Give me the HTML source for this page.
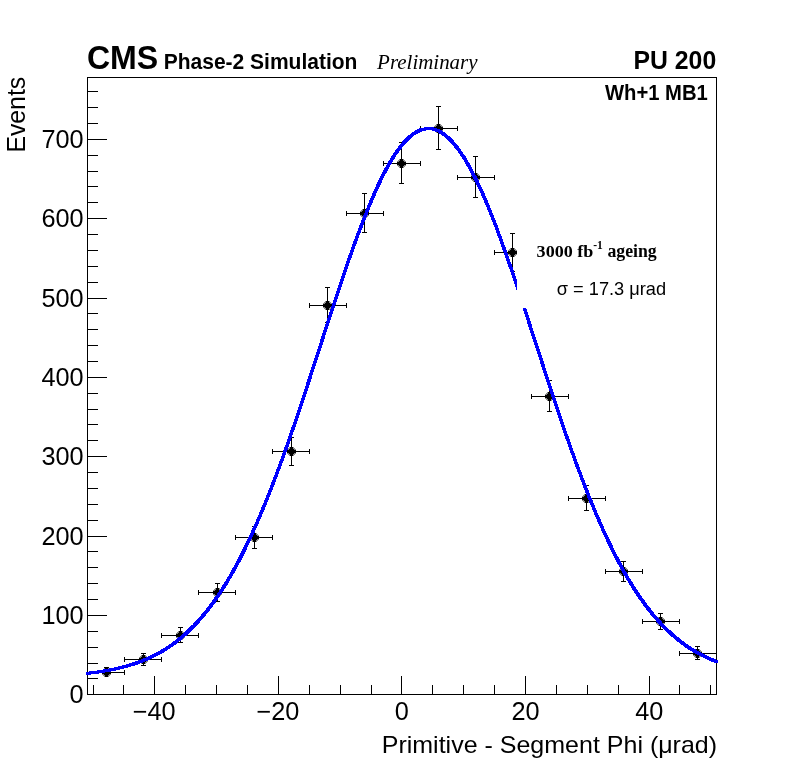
<!DOCTYPE html>
<html><head><meta charset="utf-8"><style>
html,body{margin:0;padding:0;background:#fff;}
body{width:796px;height:772px;overflow:hidden;}
svg{display:block;will-change:transform;}
text{font-family:"Liberation Sans",sans-serif;}
</style></head><body>
<svg width="796" height="772" viewBox="0 0 796 772">
<rect x="0" y="0" width="796" height="772" fill="#fff"/>

<path d="M88 694.5h19 M88 678.5h10 M88 663.5h10 M88 647.5h10 M88 631.5h10 M88 615.5h19 M88 599.5h10 M88 583.5h10 M88 567.5h10 M88 551.5h10 M88 536.5h19 M88 520.5h10 M88 504.5h10 M88 488.5h10 M88 472.5h10 M88 456.5h19 M88 440.5h10 M88 424.5h10 M88 409.5h10 M88 393.5h10 M88 377.5h19 M88 361.5h10 M88 345.5h10 M88 329.5h10 M88 313.5h10 M88 298.5h19 M88 282.5h10 M88 266.5h10 M88 250.5h10 M88 234.5h10 M88 218.5h19 M88 202.5h10 M88 186.5h10 M88 171.5h10 M88 155.5h10 M88 139.5h19 M88 123.5h10 M88 107.5h10 M88 91.5h10 M93.5 694v-9 M123.5 694v-9 M154.5 694v-18 M185.5 694v-9 M216.5 694v-9 M247.5 694v-9 M278.5 694v-18 M309.5 694v-9 M340.5 694v-9 M371.5 694v-9 M401.5 694v-18 M432.5 694v-9 M463.5 694v-9 M494.5 694v-9 M525.5 694v-18 M556.5 694v-9 M587.5 694v-9 M618.5 694v-9 M649.5 694v-18 M679.5 694v-9 M710.5 694v-9" stroke="#000" stroke-width="1" fill="none"/>
<g clip-path="url(#fr)">
<clipPath id="fr"><rect x="87.5" y="77.5" width="629" height="617"/></clipPath>
<path d="M87.5 672.5H124.5M106.5 667.5V672.5M104.0 667.5h5M124.5 670.0v5M124.5 659.5H161.5M143.5 653.5V665.5M141.0 653.5h5M141.0 665.5h5M124.5 657.0v5M161.5 657.0v5M161.5 635.5H198.5M180.5 627.5V642.5M178.0 627.5h5M178.0 642.5h5M161.5 633.0v5M198.5 633.0v5M198.5 592.5H235.5M217.5 583.5V601.5M215.0 583.5h5M215.0 601.5h5M198.5 590.0v5M235.5 590.0v5M235.5 537.5H272.5M254.5 526.5V548.5M252.0 526.5h5M252.0 548.5h5M235.5 535.0v5M272.5 535.0v5M272.5 451.5H309.5M291.5 437.5V465.5M289.0 437.5h5M289.0 465.5h5M272.5 449.0v5M309.5 449.0v5M309.5 305.5H346.5M327.5 287.5V322.5M325.0 287.5h5M325.0 322.5h5M309.5 303.0v5M346.5 303.0v5M346.5 213.5H383.5M364.5 193.5V232.5M362.0 193.5h5M362.0 232.5h5M346.5 211.0v5M383.5 211.0v5M383.5 163.5H420.5M401.5 142.5V183.5M399.0 142.5h5M399.0 183.5h5M383.5 161.0v5M420.5 161.0v5M420.5 128.5H457.5M438.5 106.5V149.5M436.0 106.5h5M436.0 149.5h5M420.5 126.0v5M457.5 126.0v5M457.5 177.5H494.5M475.5 156.5V197.5M473.0 156.5h5M473.0 197.5h5M457.5 175.0v5M494.5 175.0v5M494.5 252.5H531.5M512.5 233.5V271.5M510.0 233.5h5M510.0 271.5h5M494.5 250.0v5M531.5 250.0v5M531.5 396.5H568.5M549.5 380.5V411.5M547.0 380.5h5M547.0 411.5h5M531.5 394.0v5M568.5 394.0v5M568.5 498.5H605.5M586.5 485.5V510.5M584.0 485.5h5M584.0 510.5h5M568.5 496.0v5M605.5 496.0v5M605.5 571.5H642.5M623.5 561.5V581.5M621.0 561.5h5M621.0 581.5h5M605.5 569.0v5M642.5 569.0v5M642.5 621.5H679.5M660.5 613.5V629.5M658.0 613.5h5M658.0 629.5h5M642.5 619.0v5M679.5 619.0v5M679.5 653.5H716.5M697.5 646.5V659.5M695.0 646.5h5M695.0 659.5h5M679.5 651.0v5" stroke="#000" stroke-width="1" fill="none"/>
<g fill="#000" shape-rendering="crispEdges"><path d="M108 676h1v1h-1ZM108 668h1v1h-1ZM104 676h1v1h-1ZM104 668h1v1h-1ZM108 675h1v1h-1ZM108 669h1v1h-1ZM104 675h1v1h-1ZM104 669h1v1h-1ZM109 675h1v1h-1ZM109 669h1v1h-1ZM103 675h1v1h-1ZM103 669h1v1h-1ZM109 674h1v1h-1ZM109 670h1v1h-1ZM103 674h1v1h-1ZM103 670h1v1h-1ZM110 674h1v1h-1ZM110 670h1v1h-1ZM102 674h1v1h-1ZM102 670h1v1h-1Z" fill="#8c8c8c"/><path d="M105 668H108V670H109V671H111V674H109V675H108V677H105V675H104V674H102V671H104V670H105Z"/><path d="M145 663h1v1h-1ZM145 655h1v1h-1ZM141 663h1v1h-1ZM141 655h1v1h-1ZM145 662h1v1h-1ZM145 656h1v1h-1ZM141 662h1v1h-1ZM141 656h1v1h-1ZM146 662h1v1h-1ZM146 656h1v1h-1ZM140 662h1v1h-1ZM140 656h1v1h-1ZM146 661h1v1h-1ZM146 657h1v1h-1ZM140 661h1v1h-1ZM140 657h1v1h-1ZM147 661h1v1h-1ZM147 657h1v1h-1ZM139 661h1v1h-1ZM139 657h1v1h-1Z" fill="#8c8c8c"/><path d="M142 655H145V657H146V658H148V661H146V662H145V664H142V662H141V661H139V658H141V657H142Z"/><path d="M182 639h1v1h-1ZM182 631h1v1h-1ZM178 639h1v1h-1ZM178 631h1v1h-1ZM182 638h1v1h-1ZM182 632h1v1h-1ZM178 638h1v1h-1ZM178 632h1v1h-1ZM183 638h1v1h-1ZM183 632h1v1h-1ZM177 638h1v1h-1ZM177 632h1v1h-1ZM183 637h1v1h-1ZM183 633h1v1h-1ZM177 637h1v1h-1ZM177 633h1v1h-1ZM184 637h1v1h-1ZM184 633h1v1h-1ZM176 637h1v1h-1ZM176 633h1v1h-1Z" fill="#8c8c8c"/><path d="M179 631H182V633H183V634H185V637H183V638H182V640H179V638H178V637H176V634H178V633H179Z"/><path d="M219 596h1v1h-1ZM219 588h1v1h-1ZM215 596h1v1h-1ZM215 588h1v1h-1ZM219 595h1v1h-1ZM219 589h1v1h-1ZM215 595h1v1h-1ZM215 589h1v1h-1ZM220 595h1v1h-1ZM220 589h1v1h-1ZM214 595h1v1h-1ZM214 589h1v1h-1ZM220 594h1v1h-1ZM220 590h1v1h-1ZM214 594h1v1h-1ZM214 590h1v1h-1ZM221 594h1v1h-1ZM221 590h1v1h-1ZM213 594h1v1h-1ZM213 590h1v1h-1Z" fill="#8c8c8c"/><path d="M216 588H219V590H220V591H222V594H220V595H219V597H216V595H215V594H213V591H215V590H216Z"/><path d="M256 541h1v1h-1ZM256 533h1v1h-1ZM252 541h1v1h-1ZM252 533h1v1h-1ZM256 540h1v1h-1ZM256 534h1v1h-1ZM252 540h1v1h-1ZM252 534h1v1h-1ZM257 540h1v1h-1ZM257 534h1v1h-1ZM251 540h1v1h-1ZM251 534h1v1h-1ZM257 539h1v1h-1ZM257 535h1v1h-1ZM251 539h1v1h-1ZM251 535h1v1h-1ZM258 539h1v1h-1ZM258 535h1v1h-1ZM250 539h1v1h-1ZM250 535h1v1h-1Z" fill="#8c8c8c"/><path d="M253 533H256V535H257V536H259V539H257V540H256V542H253V540H252V539H250V536H252V535H253Z"/><path d="M293 455h1v1h-1ZM293 447h1v1h-1ZM289 455h1v1h-1ZM289 447h1v1h-1ZM293 454h1v1h-1ZM293 448h1v1h-1ZM289 454h1v1h-1ZM289 448h1v1h-1ZM294 454h1v1h-1ZM294 448h1v1h-1ZM288 454h1v1h-1ZM288 448h1v1h-1ZM294 453h1v1h-1ZM294 449h1v1h-1ZM288 453h1v1h-1ZM288 449h1v1h-1ZM295 453h1v1h-1ZM295 449h1v1h-1ZM287 453h1v1h-1ZM287 449h1v1h-1Z" fill="#8c8c8c"/><path d="M290 447H293V449H294V450H296V453H294V454H293V456H290V454H289V453H287V450H289V449H290Z"/><path d="M329 309h1v1h-1ZM329 301h1v1h-1ZM325 309h1v1h-1ZM325 301h1v1h-1ZM329 308h1v1h-1ZM329 302h1v1h-1ZM325 308h1v1h-1ZM325 302h1v1h-1ZM330 308h1v1h-1ZM330 302h1v1h-1ZM324 308h1v1h-1ZM324 302h1v1h-1ZM330 307h1v1h-1ZM330 303h1v1h-1ZM324 307h1v1h-1ZM324 303h1v1h-1ZM331 307h1v1h-1ZM331 303h1v1h-1ZM323 307h1v1h-1ZM323 303h1v1h-1Z" fill="#8c8c8c"/><path d="M326 301H329V303H330V304H332V307H330V308H329V310H326V308H325V307H323V304H325V303H326Z"/><path d="M366 217h1v1h-1ZM366 209h1v1h-1ZM362 217h1v1h-1ZM362 209h1v1h-1ZM366 216h1v1h-1ZM366 210h1v1h-1ZM362 216h1v1h-1ZM362 210h1v1h-1ZM367 216h1v1h-1ZM367 210h1v1h-1ZM361 216h1v1h-1ZM361 210h1v1h-1ZM367 215h1v1h-1ZM367 211h1v1h-1ZM361 215h1v1h-1ZM361 211h1v1h-1ZM368 215h1v1h-1ZM368 211h1v1h-1ZM360 215h1v1h-1ZM360 211h1v1h-1Z" fill="#8c8c8c"/><path d="M363 209H366V211H367V212H369V215H367V216H366V218H363V216H362V215H360V212H362V211H363Z"/><path d="M403 167h1v1h-1ZM403 159h1v1h-1ZM399 167h1v1h-1ZM399 159h1v1h-1ZM403 166h1v1h-1ZM403 160h1v1h-1ZM399 166h1v1h-1ZM399 160h1v1h-1ZM404 166h1v1h-1ZM404 160h1v1h-1ZM398 166h1v1h-1ZM398 160h1v1h-1ZM404 165h1v1h-1ZM404 161h1v1h-1ZM398 165h1v1h-1ZM398 161h1v1h-1ZM405 165h1v1h-1ZM405 161h1v1h-1ZM397 165h1v1h-1ZM397 161h1v1h-1Z" fill="#8c8c8c"/><path d="M400 159H403V161H404V162H406V165H404V166H403V168H400V166H399V165H397V162H399V161H400Z"/><path d="M440 132h1v1h-1ZM440 124h1v1h-1ZM436 132h1v1h-1ZM436 124h1v1h-1ZM440 131h1v1h-1ZM440 125h1v1h-1ZM436 131h1v1h-1ZM436 125h1v1h-1ZM441 131h1v1h-1ZM441 125h1v1h-1ZM435 131h1v1h-1ZM435 125h1v1h-1ZM441 130h1v1h-1ZM441 126h1v1h-1ZM435 130h1v1h-1ZM435 126h1v1h-1ZM442 130h1v1h-1ZM442 126h1v1h-1ZM434 130h1v1h-1ZM434 126h1v1h-1Z" fill="#8c8c8c"/><path d="M437 124H440V126H441V127H443V130H441V131H440V133H437V131H436V130H434V127H436V126H437Z"/><path d="M477 181h1v1h-1ZM477 173h1v1h-1ZM473 181h1v1h-1ZM473 173h1v1h-1ZM477 180h1v1h-1ZM477 174h1v1h-1ZM473 180h1v1h-1ZM473 174h1v1h-1ZM478 180h1v1h-1ZM478 174h1v1h-1ZM472 180h1v1h-1ZM472 174h1v1h-1ZM478 179h1v1h-1ZM478 175h1v1h-1ZM472 179h1v1h-1ZM472 175h1v1h-1ZM479 179h1v1h-1ZM479 175h1v1h-1ZM471 179h1v1h-1ZM471 175h1v1h-1Z" fill="#8c8c8c"/><path d="M474 173H477V175H478V176H480V179H478V180H477V182H474V180H473V179H471V176H473V175H474Z"/><path d="M514 256h1v1h-1ZM514 248h1v1h-1ZM510 256h1v1h-1ZM510 248h1v1h-1ZM514 255h1v1h-1ZM514 249h1v1h-1ZM510 255h1v1h-1ZM510 249h1v1h-1ZM515 255h1v1h-1ZM515 249h1v1h-1ZM509 255h1v1h-1ZM509 249h1v1h-1ZM515 254h1v1h-1ZM515 250h1v1h-1ZM509 254h1v1h-1ZM509 250h1v1h-1ZM516 254h1v1h-1ZM516 250h1v1h-1ZM508 254h1v1h-1ZM508 250h1v1h-1Z" fill="#8c8c8c"/><path d="M511 248H514V250H515V251H517V254H515V255H514V257H511V255H510V254H508V251H510V250H511Z"/><path d="M551 400h1v1h-1ZM551 392h1v1h-1ZM547 400h1v1h-1ZM547 392h1v1h-1ZM551 399h1v1h-1ZM551 393h1v1h-1ZM547 399h1v1h-1ZM547 393h1v1h-1ZM552 399h1v1h-1ZM552 393h1v1h-1ZM546 399h1v1h-1ZM546 393h1v1h-1ZM552 398h1v1h-1ZM552 394h1v1h-1ZM546 398h1v1h-1ZM546 394h1v1h-1ZM553 398h1v1h-1ZM553 394h1v1h-1ZM545 398h1v1h-1ZM545 394h1v1h-1Z" fill="#8c8c8c"/><path d="M548 392H551V394H552V395H554V398H552V399H551V401H548V399H547V398H545V395H547V394H548Z"/><path d="M588 502h1v1h-1ZM588 494h1v1h-1ZM584 502h1v1h-1ZM584 494h1v1h-1ZM588 501h1v1h-1ZM588 495h1v1h-1ZM584 501h1v1h-1ZM584 495h1v1h-1ZM589 501h1v1h-1ZM589 495h1v1h-1ZM583 501h1v1h-1ZM583 495h1v1h-1ZM589 500h1v1h-1ZM589 496h1v1h-1ZM583 500h1v1h-1ZM583 496h1v1h-1ZM590 500h1v1h-1ZM590 496h1v1h-1ZM582 500h1v1h-1ZM582 496h1v1h-1Z" fill="#8c8c8c"/><path d="M585 494H588V496H589V497H591V500H589V501H588V503H585V501H584V500H582V497H584V496H585Z"/><path d="M625 575h1v1h-1ZM625 567h1v1h-1ZM621 575h1v1h-1ZM621 567h1v1h-1ZM625 574h1v1h-1ZM625 568h1v1h-1ZM621 574h1v1h-1ZM621 568h1v1h-1ZM626 574h1v1h-1ZM626 568h1v1h-1ZM620 574h1v1h-1ZM620 568h1v1h-1ZM626 573h1v1h-1ZM626 569h1v1h-1ZM620 573h1v1h-1ZM620 569h1v1h-1ZM627 573h1v1h-1ZM627 569h1v1h-1ZM619 573h1v1h-1ZM619 569h1v1h-1Z" fill="#8c8c8c"/><path d="M622 567H625V569H626V570H628V573H626V574H625V576H622V574H621V573H619V570H621V569H622Z"/><path d="M662 625h1v1h-1ZM662 617h1v1h-1ZM658 625h1v1h-1ZM658 617h1v1h-1ZM662 624h1v1h-1ZM662 618h1v1h-1ZM658 624h1v1h-1ZM658 618h1v1h-1ZM663 624h1v1h-1ZM663 618h1v1h-1ZM657 624h1v1h-1ZM657 618h1v1h-1ZM663 623h1v1h-1ZM663 619h1v1h-1ZM657 623h1v1h-1ZM657 619h1v1h-1ZM664 623h1v1h-1ZM664 619h1v1h-1ZM656 623h1v1h-1ZM656 619h1v1h-1Z" fill="#8c8c8c"/><path d="M659 617H662V619H663V620H665V623H663V624H662V626H659V624H658V623H656V620H658V619H659Z"/><path d="M699 657h1v1h-1ZM699 649h1v1h-1ZM695 657h1v1h-1ZM695 649h1v1h-1ZM699 656h1v1h-1ZM699 650h1v1h-1ZM695 656h1v1h-1ZM695 650h1v1h-1ZM700 656h1v1h-1ZM700 650h1v1h-1ZM694 656h1v1h-1ZM694 650h1v1h-1ZM700 655h1v1h-1ZM700 651h1v1h-1ZM694 655h1v1h-1ZM694 651h1v1h-1ZM701 655h1v1h-1ZM701 651h1v1h-1ZM693 655h1v1h-1ZM693 651h1v1h-1Z" fill="#8c8c8c"/><path d="M696 649H699V651H700V652H702V655H700V656H699V658H696V656H695V655H693V652H695V651H696Z"/></g>
</g>
<rect x="87.5" y="77.5" width="629" height="617" fill="none" stroke="#000" stroke-width="1"/>
<g fill="none" stroke="#0000ff" stroke-width="1" shape-rendering="crispEdges">
<polyline points="87.0,673.30 93.3,672.58 99.6,671.73 105.9,670.73 112.2,669.57 118.5,668.22 124.7,666.65 131.0,664.84 137.3,662.75 143.6,660.36 149.9,657.63 156.2,654.53 162.5,651.01 168.8,647.04 175.1,642.58 181.3,637.59 187.6,632.03 193.9,625.85 200.2,619.02 206.5,611.49 212.8,603.24 219.1,594.23 225.4,584.44 231.7,573.84 238.0,562.41 244.2,550.15 250.5,537.06 256.8,523.13 263.1,508.40 269.4,492.89 275.7,476.63 282.0,459.68 288.3,442.10 294.6,423.95 300.9,405.34 307.1,386.35 313.4,367.10 319.7,347.69 326.0,328.26 332.3,308.95 338.6,289.88 344.9,271.22 351.2,253.11 357.5,235.70 363.8,219.14 370.1,203.58 376.3,189.15 382.6,176.01 388.9,164.26 395.2,154.03 401.5,145.41 407.8,138.49 414.1,133.34 420.4,130.02 426.7,128.55 432.9,128.95 439.2,131.21 445.5,135.33 451.8,141.24 458.1,148.90 464.4,158.22 470.7,169.11 477.0,181.47 483.3,195.18 489.6,210.11 495.9,226.12 502.1,243.06 508.4,260.79 514.7,279.15 521.0,298.01 527.3,317.20 533.6,336.58 539.9,356.01 546.2,375.37 552.5,394.53 558.8,413.37 565.0,431.79 571.3,449.70 577.6,467.02 583.9,483.68 590.2,499.63 596.5,514.81 602.8,529.20 609.1,542.77 615.4,555.50 621.6,567.41 627.9,578.48 634.2,588.73 640.5,598.19 646.8,606.87 653.1,614.80 659.4,622.02 665.7,628.57 672.0,634.48 678.3,639.80 684.5,644.56 690.8,648.80 697.1,652.57 703.4,655.91 709.7,658.84 717.0,661.80" transform="translate(-1,-1)"/>
<polyline points="87.0,673.30 93.3,672.58 99.6,671.73 105.9,670.73 112.2,669.57 118.5,668.22 124.7,666.65 131.0,664.84 137.3,662.75 143.6,660.36 149.9,657.63 156.2,654.53 162.5,651.01 168.8,647.04 175.1,642.58 181.3,637.59 187.6,632.03 193.9,625.85 200.2,619.02 206.5,611.49 212.8,603.24 219.1,594.23 225.4,584.44 231.7,573.84 238.0,562.41 244.2,550.15 250.5,537.06 256.8,523.13 263.1,508.40 269.4,492.89 275.7,476.63 282.0,459.68 288.3,442.10 294.6,423.95 300.9,405.34 307.1,386.35 313.4,367.10 319.7,347.69 326.0,328.26 332.3,308.95 338.6,289.88 344.9,271.22 351.2,253.11 357.5,235.70 363.8,219.14 370.1,203.58 376.3,189.15 382.6,176.01 388.9,164.26 395.2,154.03 401.5,145.41 407.8,138.49 414.1,133.34 420.4,130.02 426.7,128.55 432.9,128.95 439.2,131.21 445.5,135.33 451.8,141.24 458.1,148.90 464.4,158.22 470.7,169.11 477.0,181.47 483.3,195.18 489.6,210.11 495.9,226.12 502.1,243.06 508.4,260.79 514.7,279.15 521.0,298.01 527.3,317.20 533.6,336.58 539.9,356.01 546.2,375.37 552.5,394.53 558.8,413.37 565.0,431.79 571.3,449.70 577.6,467.02 583.9,483.68 590.2,499.63 596.5,514.81 602.8,529.20 609.1,542.77 615.4,555.50 621.6,567.41 627.9,578.48 634.2,588.73 640.5,598.19 646.8,606.87 653.1,614.80 659.4,622.02 665.7,628.57 672.0,634.48 678.3,639.80 684.5,644.56 690.8,648.80 697.1,652.57 703.4,655.91 709.7,658.84 717.0,661.80" transform="translate(-1,0)"/>
<polyline points="87.0,673.30 93.3,672.58 99.6,671.73 105.9,670.73 112.2,669.57 118.5,668.22 124.7,666.65 131.0,664.84 137.3,662.75 143.6,660.36 149.9,657.63 156.2,654.53 162.5,651.01 168.8,647.04 175.1,642.58 181.3,637.59 187.6,632.03 193.9,625.85 200.2,619.02 206.5,611.49 212.8,603.24 219.1,594.23 225.4,584.44 231.7,573.84 238.0,562.41 244.2,550.15 250.5,537.06 256.8,523.13 263.1,508.40 269.4,492.89 275.7,476.63 282.0,459.68 288.3,442.10 294.6,423.95 300.9,405.34 307.1,386.35 313.4,367.10 319.7,347.69 326.0,328.26 332.3,308.95 338.6,289.88 344.9,271.22 351.2,253.11 357.5,235.70 363.8,219.14 370.1,203.58 376.3,189.15 382.6,176.01 388.9,164.26 395.2,154.03 401.5,145.41 407.8,138.49 414.1,133.34 420.4,130.02 426.7,128.55 432.9,128.95 439.2,131.21 445.5,135.33 451.8,141.24 458.1,148.90 464.4,158.22 470.7,169.11 477.0,181.47 483.3,195.18 489.6,210.11 495.9,226.12 502.1,243.06 508.4,260.79 514.7,279.15 521.0,298.01 527.3,317.20 533.6,336.58 539.9,356.01 546.2,375.37 552.5,394.53 558.8,413.37 565.0,431.79 571.3,449.70 577.6,467.02 583.9,483.68 590.2,499.63 596.5,514.81 602.8,529.20 609.1,542.77 615.4,555.50 621.6,567.41 627.9,578.48 634.2,588.73 640.5,598.19 646.8,606.87 653.1,614.80 659.4,622.02 665.7,628.57 672.0,634.48 678.3,639.80 684.5,644.56 690.8,648.80 697.1,652.57 703.4,655.91 709.7,658.84 717.0,661.80" transform="translate(-1,1)"/>
<polyline points="87.0,673.30 93.3,672.58 99.6,671.73 105.9,670.73 112.2,669.57 118.5,668.22 124.7,666.65 131.0,664.84 137.3,662.75 143.6,660.36 149.9,657.63 156.2,654.53 162.5,651.01 168.8,647.04 175.1,642.58 181.3,637.59 187.6,632.03 193.9,625.85 200.2,619.02 206.5,611.49 212.8,603.24 219.1,594.23 225.4,584.44 231.7,573.84 238.0,562.41 244.2,550.15 250.5,537.06 256.8,523.13 263.1,508.40 269.4,492.89 275.7,476.63 282.0,459.68 288.3,442.10 294.6,423.95 300.9,405.34 307.1,386.35 313.4,367.10 319.7,347.69 326.0,328.26 332.3,308.95 338.6,289.88 344.9,271.22 351.2,253.11 357.5,235.70 363.8,219.14 370.1,203.58 376.3,189.15 382.6,176.01 388.9,164.26 395.2,154.03 401.5,145.41 407.8,138.49 414.1,133.34 420.4,130.02 426.7,128.55 432.9,128.95 439.2,131.21 445.5,135.33 451.8,141.24 458.1,148.90 464.4,158.22 470.7,169.11 477.0,181.47 483.3,195.18 489.6,210.11 495.9,226.12 502.1,243.06 508.4,260.79 514.7,279.15 521.0,298.01 527.3,317.20 533.6,336.58 539.9,356.01 546.2,375.37 552.5,394.53 558.8,413.37 565.0,431.79 571.3,449.70 577.6,467.02 583.9,483.68 590.2,499.63 596.5,514.81 602.8,529.20 609.1,542.77 615.4,555.50 621.6,567.41 627.9,578.48 634.2,588.73 640.5,598.19 646.8,606.87 653.1,614.80 659.4,622.02 665.7,628.57 672.0,634.48 678.3,639.80 684.5,644.56 690.8,648.80 697.1,652.57 703.4,655.91 709.7,658.84 717.0,661.80" transform="translate(0,-1)"/>
<polyline points="87.0,673.30 93.3,672.58 99.6,671.73 105.9,670.73 112.2,669.57 118.5,668.22 124.7,666.65 131.0,664.84 137.3,662.75 143.6,660.36 149.9,657.63 156.2,654.53 162.5,651.01 168.8,647.04 175.1,642.58 181.3,637.59 187.6,632.03 193.9,625.85 200.2,619.02 206.5,611.49 212.8,603.24 219.1,594.23 225.4,584.44 231.7,573.84 238.0,562.41 244.2,550.15 250.5,537.06 256.8,523.13 263.1,508.40 269.4,492.89 275.7,476.63 282.0,459.68 288.3,442.10 294.6,423.95 300.9,405.34 307.1,386.35 313.4,367.10 319.7,347.69 326.0,328.26 332.3,308.95 338.6,289.88 344.9,271.22 351.2,253.11 357.5,235.70 363.8,219.14 370.1,203.58 376.3,189.15 382.6,176.01 388.9,164.26 395.2,154.03 401.5,145.41 407.8,138.49 414.1,133.34 420.4,130.02 426.7,128.55 432.9,128.95 439.2,131.21 445.5,135.33 451.8,141.24 458.1,148.90 464.4,158.22 470.7,169.11 477.0,181.47 483.3,195.18 489.6,210.11 495.9,226.12 502.1,243.06 508.4,260.79 514.7,279.15 521.0,298.01 527.3,317.20 533.6,336.58 539.9,356.01 546.2,375.37 552.5,394.53 558.8,413.37 565.0,431.79 571.3,449.70 577.6,467.02 583.9,483.68 590.2,499.63 596.5,514.81 602.8,529.20 609.1,542.77 615.4,555.50 621.6,567.41 627.9,578.48 634.2,588.73 640.5,598.19 646.8,606.87 653.1,614.80 659.4,622.02 665.7,628.57 672.0,634.48 678.3,639.80 684.5,644.56 690.8,648.80 697.1,652.57 703.4,655.91 709.7,658.84 717.0,661.80" transform="translate(0,0)"/>
<polyline points="87.0,673.30 93.3,672.58 99.6,671.73 105.9,670.73 112.2,669.57 118.5,668.22 124.7,666.65 131.0,664.84 137.3,662.75 143.6,660.36 149.9,657.63 156.2,654.53 162.5,651.01 168.8,647.04 175.1,642.58 181.3,637.59 187.6,632.03 193.9,625.85 200.2,619.02 206.5,611.49 212.8,603.24 219.1,594.23 225.4,584.44 231.7,573.84 238.0,562.41 244.2,550.15 250.5,537.06 256.8,523.13 263.1,508.40 269.4,492.89 275.7,476.63 282.0,459.68 288.3,442.10 294.6,423.95 300.9,405.34 307.1,386.35 313.4,367.10 319.7,347.69 326.0,328.26 332.3,308.95 338.6,289.88 344.9,271.22 351.2,253.11 357.5,235.70 363.8,219.14 370.1,203.58 376.3,189.15 382.6,176.01 388.9,164.26 395.2,154.03 401.5,145.41 407.8,138.49 414.1,133.34 420.4,130.02 426.7,128.55 432.9,128.95 439.2,131.21 445.5,135.33 451.8,141.24 458.1,148.90 464.4,158.22 470.7,169.11 477.0,181.47 483.3,195.18 489.6,210.11 495.9,226.12 502.1,243.06 508.4,260.79 514.7,279.15 521.0,298.01 527.3,317.20 533.6,336.58 539.9,356.01 546.2,375.37 552.5,394.53 558.8,413.37 565.0,431.79 571.3,449.70 577.6,467.02 583.9,483.68 590.2,499.63 596.5,514.81 602.8,529.20 609.1,542.77 615.4,555.50 621.6,567.41 627.9,578.48 634.2,588.73 640.5,598.19 646.8,606.87 653.1,614.80 659.4,622.02 665.7,628.57 672.0,634.48 678.3,639.80 684.5,644.56 690.8,648.80 697.1,652.57 703.4,655.91 709.7,658.84 717.0,661.80" transform="translate(0,1)"/>
<polyline points="87.0,673.30 93.3,672.58 99.6,671.73 105.9,670.73 112.2,669.57 118.5,668.22 124.7,666.65 131.0,664.84 137.3,662.75 143.6,660.36 149.9,657.63 156.2,654.53 162.5,651.01 168.8,647.04 175.1,642.58 181.3,637.59 187.6,632.03 193.9,625.85 200.2,619.02 206.5,611.49 212.8,603.24 219.1,594.23 225.4,584.44 231.7,573.84 238.0,562.41 244.2,550.15 250.5,537.06 256.8,523.13 263.1,508.40 269.4,492.89 275.7,476.63 282.0,459.68 288.3,442.10 294.6,423.95 300.9,405.34 307.1,386.35 313.4,367.10 319.7,347.69 326.0,328.26 332.3,308.95 338.6,289.88 344.9,271.22 351.2,253.11 357.5,235.70 363.8,219.14 370.1,203.58 376.3,189.15 382.6,176.01 388.9,164.26 395.2,154.03 401.5,145.41 407.8,138.49 414.1,133.34 420.4,130.02 426.7,128.55 432.9,128.95 439.2,131.21 445.5,135.33 451.8,141.24 458.1,148.90 464.4,158.22 470.7,169.11 477.0,181.47 483.3,195.18 489.6,210.11 495.9,226.12 502.1,243.06 508.4,260.79 514.7,279.15 521.0,298.01 527.3,317.20 533.6,336.58 539.9,356.01 546.2,375.37 552.5,394.53 558.8,413.37 565.0,431.79 571.3,449.70 577.6,467.02 583.9,483.68 590.2,499.63 596.5,514.81 602.8,529.20 609.1,542.77 615.4,555.50 621.6,567.41 627.9,578.48 634.2,588.73 640.5,598.19 646.8,606.87 653.1,614.80 659.4,622.02 665.7,628.57 672.0,634.48 678.3,639.80 684.5,644.56 690.8,648.80 697.1,652.57 703.4,655.91 709.7,658.84 717.0,661.80" transform="translate(1,-1)"/>
<polyline points="87.0,673.30 93.3,672.58 99.6,671.73 105.9,670.73 112.2,669.57 118.5,668.22 124.7,666.65 131.0,664.84 137.3,662.75 143.6,660.36 149.9,657.63 156.2,654.53 162.5,651.01 168.8,647.04 175.1,642.58 181.3,637.59 187.6,632.03 193.9,625.85 200.2,619.02 206.5,611.49 212.8,603.24 219.1,594.23 225.4,584.44 231.7,573.84 238.0,562.41 244.2,550.15 250.5,537.06 256.8,523.13 263.1,508.40 269.4,492.89 275.7,476.63 282.0,459.68 288.3,442.10 294.6,423.95 300.9,405.34 307.1,386.35 313.4,367.10 319.7,347.69 326.0,328.26 332.3,308.95 338.6,289.88 344.9,271.22 351.2,253.11 357.5,235.70 363.8,219.14 370.1,203.58 376.3,189.15 382.6,176.01 388.9,164.26 395.2,154.03 401.5,145.41 407.8,138.49 414.1,133.34 420.4,130.02 426.7,128.55 432.9,128.95 439.2,131.21 445.5,135.33 451.8,141.24 458.1,148.90 464.4,158.22 470.7,169.11 477.0,181.47 483.3,195.18 489.6,210.11 495.9,226.12 502.1,243.06 508.4,260.79 514.7,279.15 521.0,298.01 527.3,317.20 533.6,336.58 539.9,356.01 546.2,375.37 552.5,394.53 558.8,413.37 565.0,431.79 571.3,449.70 577.6,467.02 583.9,483.68 590.2,499.63 596.5,514.81 602.8,529.20 609.1,542.77 615.4,555.50 621.6,567.41 627.9,578.48 634.2,588.73 640.5,598.19 646.8,606.87 653.1,614.80 659.4,622.02 665.7,628.57 672.0,634.48 678.3,639.80 684.5,644.56 690.8,648.80 697.1,652.57 703.4,655.91 709.7,658.84 717.0,661.80" transform="translate(1,0)"/>
<polyline points="87.0,673.30 93.3,672.58 99.6,671.73 105.9,670.73 112.2,669.57 118.5,668.22 124.7,666.65 131.0,664.84 137.3,662.75 143.6,660.36 149.9,657.63 156.2,654.53 162.5,651.01 168.8,647.04 175.1,642.58 181.3,637.59 187.6,632.03 193.9,625.85 200.2,619.02 206.5,611.49 212.8,603.24 219.1,594.23 225.4,584.44 231.7,573.84 238.0,562.41 244.2,550.15 250.5,537.06 256.8,523.13 263.1,508.40 269.4,492.89 275.7,476.63 282.0,459.68 288.3,442.10 294.6,423.95 300.9,405.34 307.1,386.35 313.4,367.10 319.7,347.69 326.0,328.26 332.3,308.95 338.6,289.88 344.9,271.22 351.2,253.11 357.5,235.70 363.8,219.14 370.1,203.58 376.3,189.15 382.6,176.01 388.9,164.26 395.2,154.03 401.5,145.41 407.8,138.49 414.1,133.34 420.4,130.02 426.7,128.55 432.9,128.95 439.2,131.21 445.5,135.33 451.8,141.24 458.1,148.90 464.4,158.22 470.7,169.11 477.0,181.47 483.3,195.18 489.6,210.11 495.9,226.12 502.1,243.06 508.4,260.79 514.7,279.15 521.0,298.01 527.3,317.20 533.6,336.58 539.9,356.01 546.2,375.37 552.5,394.53 558.8,413.37 565.0,431.79 571.3,449.70 577.6,467.02 583.9,483.68 590.2,499.63 596.5,514.81 602.8,529.20 609.1,542.77 615.4,555.50 621.6,567.41 627.9,578.48 634.2,588.73 640.5,598.19 646.8,606.87 653.1,614.80 659.4,622.02 665.7,628.57 672.0,634.48 678.3,639.80 684.5,644.56 690.8,648.80 697.1,652.57 703.4,655.91 709.7,658.84 717.0,661.80" transform="translate(1,1)"/>
</g>
<rect x="517" y="225" width="190" height="83" fill="#fff"/>
<text x="83.7" y="703.4" font-size="25.3" text-anchor="end">0</text>
<text x="83.7" y="624.0" font-size="25.3" text-anchor="end">100</text>
<text x="83.7" y="544.7" font-size="25.3" text-anchor="end">200</text>
<text x="83.7" y="465.3" font-size="25.3" text-anchor="end">300</text>
<text x="83.7" y="386.0" font-size="25.3" text-anchor="end">400</text>
<text x="83.7" y="306.6" font-size="25.3" text-anchor="end">500</text>
<text x="83.7" y="227.3" font-size="25.3" text-anchor="end">600</text>
<text x="83.7" y="147.9" font-size="25.3" text-anchor="end">700</text>
<text x="154.2" y="720.3" font-size="25.3" text-anchor="middle">−40</text>
<text x="278.0" y="720.3" font-size="25.3" text-anchor="middle">−20</text>
<text x="401.8" y="720.3" font-size="25.3" text-anchor="middle">0</text>
<text x="525.5" y="720.3" font-size="25.3" text-anchor="middle">20</text>
<text x="649.2" y="720.3" font-size="25.3" text-anchor="middle">40</text>
<text transform="translate(25.2,152.6) rotate(-90)" font-size="25.5" textLength="75.8" lengthAdjust="spacingAndGlyphs">Events</text>
<text x="381.74" y="752.60" font-size="23.20" textLength="335.35" lengthAdjust="spacingAndGlyphs">Primitive - Segment Phi (μrad)</text>
<text x="86.92" y="69.00" font-size="33.50" font-weight="bold" textLength="71.36" lengthAdjust="spacingAndGlyphs">CMS</text>
<text x="163.78" y="68.90" font-size="21.20" font-weight="bold" textLength="193.67" lengthAdjust="spacingAndGlyphs">Phase-2 Simulation</text>
<text x="377.10" y="68.90" font-size="20.80" font-style="italic" style="font-family:'Liberation Serif',serif" textLength="100.46" lengthAdjust="spacingAndGlyphs">Preliminary</text>
<text x="633.53" y="68.90" font-size="25.40" font-weight="bold" textLength="82.68" lengthAdjust="spacingAndGlyphs">PU 200</text>
<text x="604.95" y="99.90" font-size="21.20" font-weight="bold" textLength="102.84" lengthAdjust="spacingAndGlyphs">Wh+1 MB1</text>
<text x="556.73" y="294.80" font-size="17.80" textLength="109.42" lengthAdjust="spacingAndGlyphs">σ = 17.3 μrad</text>
<text x="536.62" y="256.90" font-size="17.40" font-weight="bold" style="font-family:'Liberation Serif',serif" textLength="56.73" lengthAdjust="spacingAndGlyphs">3000 fb</text>
<text x="607.42" y="256.90" font-size="18.20" font-weight="bold" style="font-family:'Liberation Serif',serif" textLength="49.36" lengthAdjust="spacingAndGlyphs">ageing</text>
<text x="593.2" y="248.6" font-size="11.5" font-weight="bold" style="font-family:'Liberation Serif',serif">-1</text>
</svg></body></html>
